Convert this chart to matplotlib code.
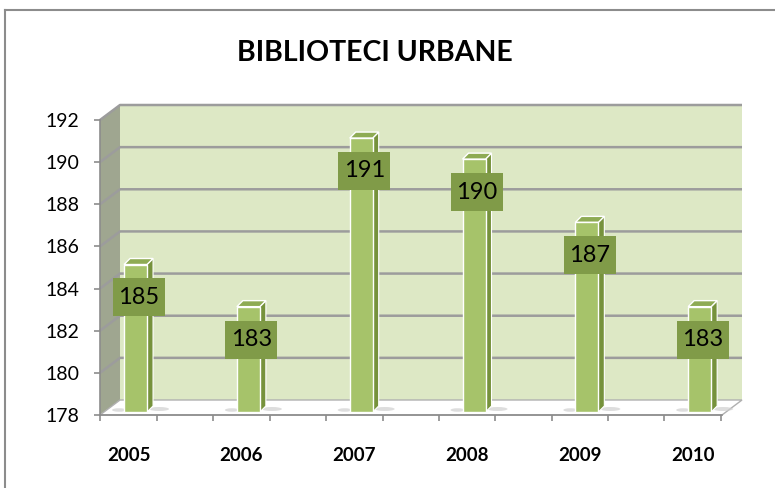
import matplotlib
matplotlib.use('Agg')
import matplotlib.pyplot as plt
from matplotlib.patches import Polygon, Rectangle, Ellipse
from matplotlib.lines import Line2D

# ---- data ----
years = ['2005', '2006', '2007', '2008', '2009', '2010']
values = [185, 183, 191, 190, 187, 183]
title = 'BIBLIOTECI URBANE'
y_min, y_max, y_step = 178, 192, 2

# ---- style ----
WALL = '#DDE8C5'
SIDE_WALL = '#9FA690'
GRID = '#9C9C9C'
BAR_FRONT = '#A6C36A'
BAR_SIDE = '#76923C'
BAR_TOP = '#8EAB54'
LABEL_BOX = '#809B48'
AXIS = '#8C8C8C'
FONT = 'Lato'

W, H = 775, 488
fig = plt.figure(figsize=(W / 100, H / 100), dpi=100)
L, R, B, T = 100, 722, 415, 120
ax = fig.add_axes([L / W, 1 - B / H, (R - L) / W, (B - T) / H])
n = len(years)
x0, x1 = -0.253, n - 1 + 0.26
ax.set_xlim(x0, x1)
ax.set_ylim(y_min, y_max)
pxx = (R - L) / (x1 - x0)
pxy = (B - T) / (y_max - y_min)


def dxu(p):
    return p / pxx


def dyu(p):
    return p / pxy


DX, DY = dxu(20), dyu(15)

# walls
ax.add_patch(Polygon([(x0 + DX, y_min + DY), (x1 + DX, y_min + DY), (x1 + DX, y_max + DY),
                      (x0 + DX, y_max + DY)], closed=True, fc=WALL, ec='none',
                     clip_on=False, zorder=0.5))
ax.add_patch(Polygon([(x0, y_min), (x0 + DX, y_min + DY), (x0 + DX, y_max + DY), (x0, y_max)],
                     closed=True, fc=SIDE_WALL, ec='none', clip_on=False, zorder=0.5))
# gridlines
for v in range(y_min + y_step, y_max + 1, y_step):
    ax.plot([x0, x0 + DX, x1 + DX], [v, v + DY, v + DY], color=GRID, lw=1.8,
            clip_on=False, zorder=0.6, solid_capstyle='butt')
# floor
ax.add_patch(Polygon([(x0, y_min), (x1, y_min), (x1 + DX, y_min + DY), (x0 + DX, y_min + DY)],
                     closed=True, fc='white', ec='#B0B0B0', lw=1.0, clip_on=False, zorder=0.7))

# bars
hw = dxu(11.5)
sdx, sdy = dxu(6), dyu(6)
for i, v in enumerate(values):
    bc = i + dxu(7)
    bb = y_min + dyu(3)
    bt = v + dyu(3)
    # shadows on floor
    ax.add_patch(Ellipse((bc - hw - dxu(5), bb + dyu(2)), dxu(14), dyu(3.5), fc='#CFCFCF',
                         ec='none', alpha=0.7, clip_on=False, zorder=0.8))
    ax.add_patch(Ellipse((bc + hw + dxu(12), bb + dyu(3)), dxu(20), dyu(4), fc='#CFCFCF',
                         ec='none', alpha=0.7, clip_on=False, zorder=0.8))
    ax.add_patch(Polygon([(bc + hw, bb), (bc + hw + sdx, bb + sdy), (bc + hw + sdx, bt + sdy),
                          (bc + hw, bt)], closed=True, fc=BAR_SIDE, ec='white', lw=0.8,
                         clip_on=False, zorder=2))
    ax.add_patch(Polygon([(bc - hw, bt), (bc + hw, bt), (bc + hw + sdx, bt + sdy),
                          (bc - hw + sdx, bt + sdy)], closed=True, fc=BAR_TOP, ec='white',
                         lw=1.0, clip_on=False, zorder=2))
    ax.add_patch(Rectangle((bc - hw, bb), 2 * hw, bt - bb, fc=BAR_FRONT, ec='white', lw=1.0,
                           clip_on=False, zorder=2.1))
    # value label
    cx, cy = bc + dxu(3), v - 1.42
    bw, bh = dxu(52), dyu(38)
    ax.add_patch(Rectangle((cx - bw / 2, cy - bh / 2), bw, bh, fc=LABEL_BOX, ec='none',
                           clip_on=False, zorder=3))
    ax.text(cx, cy, str(v), ha='center', va='center', fontsize=17, family=FONT,
            color='black', zorder=4, clip_on=False)

# axes styling
ax.patch.set_visible(False)
for s in ['top', 'right']:
    ax.spines[s].set_visible(False)
for s in ['left', 'bottom']:
    ax.spines[s].set_color(AXIS)
    ax.spines[s].set_linewidth(1.2)
    ax.spines[s].set_zorder(1)
ax.set_yticks(range(y_min, y_max + 1, y_step))
ax.tick_params(axis='y', length=4.3, width=1.2, color=AXIS, pad=10.5, labelsize=14)
for lab in ax.get_yticklabels():
    lab.set_family(FONT)
ax.set_xticks(range(n))
ax.set_xticklabels(years, fontweight='bold', family=FONT, fontsize=13.5)
ax.tick_params(axis='x', which='major', length=0, pad=23)
minor = []
for i in range(n):
    minor += [i - 0.251, i + 0.251]
ax.set_xticks(minor, minor=True)
ax.tick_params(axis='x', which='minor', length=4.3, width=1.2, color=AXIS)

fig.text(375 / W, 1 - 53 / H, title, ha='center', va='center', fontsize=20.5,
         fontweight='bold', family=FONT)

# chart border (partially visible)
fig.add_artist(Line2D([5 / W, 5 / W], [0, 1 - 10 / H], transform=fig.transFigure,
                      color='#8C8C8C', lw=1.5))
fig.add_artist(Line2D([5 / W, 1], [1 - 10 / H, 1 - 10 / H], transform=fig.transFigure,
                      color='#8C8C8C', lw=1.5))

fig.savefig('out.png', dpi=100, facecolor='white')
